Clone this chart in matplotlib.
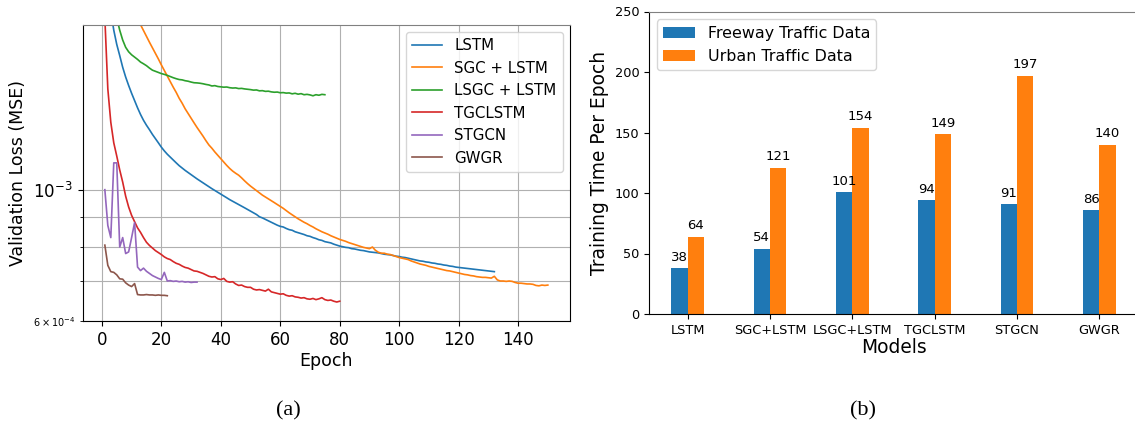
import numpy as np
import matplotlib
matplotlib.use('Agg')
import matplotlib.pyplot as plt

# validation loss per epoch, in units of 1e-3
lstm = [2.60, 2.25, 2.00, 1.86, 1.76, 1.685, 1.61, 1.55, 1.50, 1.455,
        1.415, 1.375, 1.34, 1.31, 1.285, 1.263, 1.24, 1.22, 1.20, 1.18,
        1.163, 1.148, 1.135, 1.122, 1.11, 1.098, 1.088, 1.078, 1.069, 1.06,
        1.051, 1.043, 1.035, 1.027, 1.019, 1.011, 1.004, 0.997, 0.99, 0.983,
        0.976, 0.969, 0.962, 0.956, 0.950, 0.944, 0.938, 0.932, 0.926, 0.920,
        0.914, 0.908, 0.900, 0.896, 0.891, 0.886, 0.881, 0.876, 0.871, 0.867,
        0.865, 0.860, 0.856, 0.854, 0.849, 0.846, 0.843, 0.840, 0.836, 0.834,
        0.830, 0.827, 0.823, 0.821, 0.817, 0.815, 0.813, 0.809, 0.806, 0.803,
        0.801, 0.799, 0.798, 0.795, 0.794, 0.792, 0.790, 0.789, 0.787, 0.785,
        0.784, 0.783, 0.782, 0.780, 0.778, 0.777, 0.776, 0.774, 0.772, 0.771,
        0.769, 0.768, 0.766, 0.764, 0.762, 0.760, 0.758, 0.757, 0.755, 0.754,
        0.752, 0.751, 0.749, 0.748, 0.746, 0.745, 0.743, 0.742, 0.740, 0.739,
        0.738, 0.737, 0.736, 0.735, 0.734, 0.733, 0.732, 0.731, 0.730, 0.729,
        0.728, 0.727]
sgc_lstm = [4.50, 3.90, 3.45, 3.10, 2.85, 2.62, 2.45, 2.30, 2.18, 2.07,
            1.99, 1.94, 1.90, 1.857, 1.815, 1.775, 1.737, 1.70, 1.663, 1.625,
            1.59, 1.556, 1.522, 1.49, 1.46, 1.427, 1.40, 1.37, 1.345, 1.32,
            1.297, 1.274, 1.253, 1.232, 1.21, 1.19, 1.175, 1.158, 1.143, 1.128,
            1.113, 1.099, 1.086, 1.075, 1.066, 1.058, 1.047, 1.035, 1.024, 1.014,
            1.005, 0.996, 0.987, 0.979, 0.972, 0.965, 0.958, 0.951, 0.944, 0.937,
            0.930, 0.922, 0.914, 0.907, 0.900, 0.893, 0.887, 0.881, 0.876, 0.870,
            0.865, 0.859, 0.854, 0.849, 0.845, 0.841, 0.836, 0.832, 0.828, 0.824,
            0.821, 0.818, 0.814, 0.811, 0.808, 0.805, 0.802, 0.799, 0.797, 0.795,
            0.800, 0.790, 0.784, 0.781, 0.781, 0.778, 0.777, 0.774, 0.771, 0.768,
            0.766, 0.764, 0.762, 0.758, 0.755, 0.752, 0.749, 0.747, 0.745, 0.742,
            0.740, 0.738, 0.736, 0.734, 0.732, 0.730, 0.729, 0.727, 0.725, 0.723,
            0.721, 0.719, 0.718, 0.716, 0.715, 0.713, 0.712, 0.711, 0.711, 0.710,
            0.709, 0.714, 0.704, 0.701, 0.701, 0.700, 0.701, 0.700, 0.697, 0.695,
            0.695, 0.694, 0.693, 0.693, 0.692, 0.689, 0.688, 0.690, 0.689, 0.690]
lsgc_lstm = [3.50, 2.80, 2.35, 2.10, 1.95, 1.86, 1.79, 1.74, 1.71, 1.69,
             1.675, 1.66, 1.643, 1.632, 1.62, 1.605, 1.592, 1.585, 1.578, 1.571,
             1.566, 1.56, 1.553, 1.546, 1.54, 1.535, 1.533, 1.528, 1.525, 1.52,
             1.516, 1.515, 1.513, 1.510, 1.506, 1.503, 1.497, 1.499, 1.494, 1.492,
             1.490, 1.491, 1.487, 1.485, 1.486, 1.482, 1.483, 1.480, 1.478, 1.476,
             1.473, 1.474, 1.469, 1.470, 1.466, 1.467, 1.463, 1.461, 1.462, 1.458,
             1.459, 1.456, 1.457, 1.452, 1.455, 1.450, 1.453, 1.447, 1.449, 1.446,
             1.441, 1.447, 1.444, 1.449, 1.447]
tgclstm = [1.95, 1.48, 1.30, 1.20, 1.14, 1.08, 1.03, 0.975, 0.935, 0.905,
           0.883, 0.862, 0.847, 0.830, 0.815, 0.805, 0.797, 0.789, 0.783, 0.777,
           0.770, 0.765, 0.762, 0.756, 0.751, 0.748, 0.743, 0.739, 0.737, 0.733,
           0.729, 0.728, 0.725, 0.722, 0.718, 0.714, 0.712, 0.713, 0.707, 0.705,
           0.708, 0.700, 0.698, 0.699, 0.693, 0.689, 0.690, 0.686, 0.684, 0.684,
           0.679, 0.677, 0.678, 0.676, 0.674, 0.679, 0.672, 0.670, 0.668, 0.666,
           0.667, 0.663, 0.661, 0.662, 0.659, 0.658, 0.656, 0.657, 0.654, 0.653,
           0.655, 0.652, 0.654, 0.657, 0.652, 0.650, 0.651, 0.648, 0.646, 0.648]
stgcn = [1.00, 0.87, 0.83, 1.11, 1.11, 0.80, 0.83, 0.78, 0.785, 0.83,
         0.88, 0.74, 0.73, 0.737, 0.728, 0.722, 0.716, 0.712, 0.708, 0.705,
         0.725, 0.701, 0.702, 0.700, 0.701, 0.699, 0.700, 0.698, 0.699, 0.697,
         0.698, 0.698]
gwgr = [0.806, 0.745, 0.727, 0.725, 0.718, 0.707, 0.706, 0.696, 0.690, 0.686,
        0.694, 0.665, 0.664, 0.664, 0.665, 0.664, 0.664, 0.663, 0.664, 0.663,
        0.663, 0.662]

loss_labels = ['LSTM', 'SGC + LSTM', 'LSGC + LSTM', 'TGCLSTM', 'STGCN', 'GWGR']
loss_series = [lstm, sgc_lstm, lsgc_lstm, tgclstm, stgcn, gwgr]

# training time per epoch
models = ['LSTM', 'SGC+LSTM', 'LSGC+LSTM', 'TGCLSTM', 'STGCN', 'GWGR']
freeway_time = [38, 54, 101, 94, 91, 86]
urban_time = [64, 121, 154, 149, 197, 140]

W, H = 1135, 428
fig = plt.figure(figsize=(W / 100, H / 100), dpi=100)

# (a) validation loss
ax1 = fig.add_axes([82.7 / W, (H - 321) / H, (570 - 82.7) / W, (321 - 24.7) / H])
for lab, vals in zip(loss_labels, loss_series):
    ep = np.arange(1, len(vals) + 1)
    ax1.plot(ep, np.array(vals) * 1e-3, label=lab, lw=1.2)
ax1.set_yscale('log')
ax1.set_ylim(6e-4, 1.9e-3)
ax1.grid(True, which='both')
ax1.tick_params(axis='both', which='major', labelsize=12)
ax1.tick_params(axis='y', which='minor', labelsize=7)
ax1.set_xlabel('Epoch', fontsize=12.5, labelpad=2)
ax1.set_ylabel('Validation Loss (MSE)', fontsize=12.5)
ax1.legend(loc='upper right', fontsize=10.8)
ax1.spines['top'].set_color('#808080')

# (b) training time
ax2 = fig.add_axes([649 / W, (H - 314) / H, 489 / W, (314 - 11.5) / H])
x = np.arange(len(models))
w = 0.2
b1 = ax2.bar(x - w / 2, freeway_time, w, label='Freeway Traffic Data')
b2 = ax2.bar(x + w / 2, urban_time, w, label='Urban Traffic Data')
for bars in (b1, b2):
    for r in bars:
        h = r.get_height()
        ax2.annotate(f'{h}', xy=(r.get_x() + r.get_width() / 2, h),
                     xytext=(0, 3), textcoords='offset points',
                     ha='center', va='bottom', fontsize=9.5)
ax2.set_ylim(0, 250)
ax2.set_xticks(x)
ax2.set_xticklabels(models)
ax2.tick_params(labelsize=9.3)
ax2.set_xlabel('Models', fontsize=13.4, labelpad=1)
ax2.set_ylabel('Training Time Per Epoch', fontsize=13.4)
ax2.legend(loc='upper left', fontsize=11.4)
ax2.spines['top'].set_color('#808080')

fig.text(288 / W, 1 - 411 / H, '(a)', ha='center', va='center',
         fontsize=16, family='Liberation Serif')
fig.text(863 / W, 1 - 411 / H, '(b)', ha='center', va='center',
         fontsize=16, family='Liberation Serif')

fig.savefig('out.png', dpi=100)
